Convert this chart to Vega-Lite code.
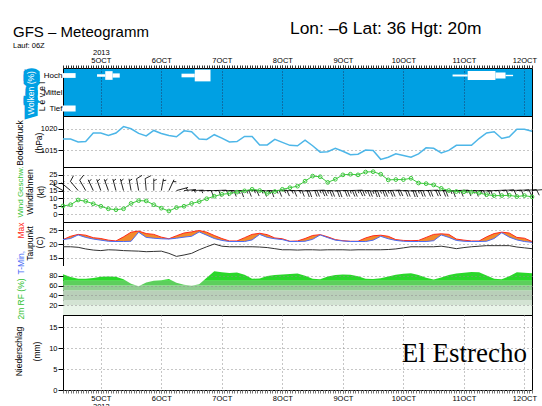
{
  "$schema": "https://vega.github.io/schema/vega-lite/v6.json",
  "autosize": {"type": "none"},
  "padding": {"left": 63, "top": 68, "right": 479, "bottom": 338},
  "background": "white",
  "title": {"text": "Lon: –6 Lat: 36 Hgt: 20m", "anchor": "start", "frame": "group", "dx": 227, "dy": 17, "font": "Liberation Sans", "fontSize": 17.4, "fontWeight": "normal", "color": "black"},
  "spacing": 0,
  "bounds": "flush",
  "datasets": {
    "wx": [
      {"t":"2013-10-04T09:00:00Z","p":1017.6,"ws":5.2,"dir":300,"barb":"5","tmax":21.6,"tmin":21.6,"td":19.0,"rh":83.3},
      {"t":"2013-10-04T12:00:00Z","p":1017.6,"ws":6.0,"dir":310,"barb":"5","tmax":22.8,"tmin":22.0,"td":19.0,"rh":77.5},
      {"t":"2013-10-04T15:00:00Z","p":1016.9,"ws":9.0,"dir":320,"barb":"10","tmax":23.5,"tmin":23.3,"td":18.8,"rh":74},
      {"t":"2013-10-04T18:00:00Z","p":1017.0,"ws":8.2,"dir":330,"barb":"10","tmax":23.2,"tmin":22.4,"td":18.2,"rh":74},
      {"t":"2013-10-04T21:00:00Z","p":1019.0,"ws":6.6,"dir":335,"barb":"5","tmax":22.3,"tmin":21.8,"td":17.8,"rh":75.5},
      {"t":"2013-10-05T00:00:00Z","p":1019.0,"ws":5.0,"dir":340,"barb":"5","tmax":22.0,"tmin":21.4,"td":17.6,"rh":78},
      {"t":"2013-10-05T03:00:00Z","p":1018.4,"ws":3.4,"dir":340,"barb":"5","tmax":21.4,"tmin":21.0,"td":17.9,"rh":78.6},
      {"t":"2013-10-05T06:00:00Z","p":1019.0,"ws":2.8,"dir":345,"barb":"5","tmax":21.1,"tmin":20.9,"td":17.8,"rh":78},
      {"t":"2013-10-05T09:00:00Z","p":1020.5,"ws":3.4,"dir":345,"barb":"5","tmax":22.6,"tmin":20.9,"td":17.6,"rh":73},
      {"t":"2013-10-05T12:00:00Z","p":1020.0,"ws":6.8,"dir":350,"barb":"5","tmax":24.3,"tmin":21.0,"td":17.5,"rh":64},
      {"t":"2013-10-05T15:00:00Z","p":1018.9,"ws":8.6,"dir":350,"barb":"10","tmax":24.7,"tmin":24.3,"td":17.4,"rh":58.5},
      {"t":"2013-10-05T18:00:00Z","p":1018.3,"ws":8.4,"dir":355,"barb":"10","tmax":23.8,"tmin":22.4,"td":17.2,"rh":66.5},
      {"t":"2013-10-05T21:00:00Z","p":1019.6,"ws":6.0,"dir":0,"barb":"5","tmax":23.5,"tmin":22.1,"td":17.3,"rh":70},
      {"t":"2013-10-06T00:00:00Z","p":1018.9,"ws":3.8,"dir":10,"barb":"5","tmax":22.5,"tmin":21.9,"td":17.4,"rh":71},
      {"t":"2013-10-06T03:00:00Z","p":1018.4,"ws":2.0,"dir":25,"barb":"5","tmax":21.9,"tmin":21.8,"td":16.6,"rh":73.5},
      {"t":"2013-10-06T06:00:00Z","p":1018.1,"ws":4.2,"dir":75,"barb":"5","tmax":23.0,"tmin":22.1,"td":15.5,"rh":66},
      {"t":"2013-10-06T09:00:00Z","p":1019.5,"ws":5.0,"dir":85,"barb":"5","tmax":24.0,"tmin":22.5,"td":16.0,"rh":61.5},
      {"t":"2013-10-06T12:00:00Z","p":1019.3,"ws":6.8,"dir":88,"barb":"5","tmax":24.4,"tmin":22.8,"td":16.6,"rh":59.5},
      {"t":"2013-10-06T15:00:00Z","p":1017.6,"ws":8.0,"dir":90,"barb":"10","tmax":24.9,"tmin":24.4,"td":17.9,"rh":63},
      {"t":"2013-10-06T18:00:00Z","p":1017.5,"ws":9.8,"dir":90,"barb":"10","tmax":24.3,"tmin":23.2,"td":19.0,"rh":76},
      {"t":"2013-10-06T21:00:00Z","p":1018.6,"ws":11.4,"dir":88,"barb":"10","tmax":23.1,"tmin":22.0,"td":20.0,"rh":89.5},
      {"t":"2013-10-07T00:00:00Z","p":1017.8,"ws":12.6,"dir":90,"barb":"15","tmax":22.0,"tmin":21.3,"td":19.2,"rh":87.5},
      {"t":"2013-10-07T03:00:00Z","p":1016.9,"ws":13.2,"dir":92,"barb":"15","tmax":21.1,"tmin":20.9,"td":19.0,"rh":85.5},
      {"t":"2013-10-07T06:00:00Z","p":1017.0,"ws":14.0,"dir":90,"barb":"15","tmax":21.1,"tmin":20.9,"td":19.0,"rh":86.5},
      {"t":"2013-10-07T09:00:00Z","p":1018.2,"ws":14.8,"dir":88,"barb":"15","tmax":22.3,"tmin":20.9,"td":19.0,"rh":82},
      {"t":"2013-10-07T12:00:00Z","p":1018.2,"ws":15.8,"dir":90,"barb":"15","tmax":23.5,"tmin":21.5,"td":19.0,"rh":74},
      {"t":"2013-10-07T15:00:00Z","p":1016.2,"ws":15.0,"dir":92,"barb":"15","tmax":23.9,"tmin":23.5,"td":18.9,"rh":74.5},
      {"t":"2013-10-07T18:00:00Z","p":1016.2,"ws":13.2,"dir":90,"barb":"15","tmax":23.4,"tmin":22.4,"td":18.7,"rh":79.5},
      {"t":"2013-10-07T21:00:00Z","p":1017.5,"ws":14.4,"dir":88,"barb":"15","tmax":22.2,"tmin":21.9,"td":18.3,"rh":81.5},
      {"t":"2013-10-08T00:00:00Z","p":1016.8,"ws":15.8,"dir":90,"barb":"15","tmax":21.9,"tmin":21.6,"td":17.9,"rh":82.5},
      {"t":"2013-10-08T03:00:00Z","p":1016.1,"ws":16.8,"dir":90,"barb":"15","tmax":21.0,"tmin":20.9,"td":17.9,"rh":83.5},
      {"t":"2013-10-08T06:00:00Z","p":1016.0,"ws":17.8,"dir":92,"barb":"20","tmax":21.1,"tmin":20.9,"td":17.8,"rh":84.5},
      {"t":"2013-10-08T09:00:00Z","p":1017.3,"ws":21.0,"dir":90,"barb":"20","tmax":22.0,"tmin":21.0,"td":17.9,"rh":80},
      {"t":"2013-10-08T12:00:00Z","p":1016.0,"ws":24.2,"dir":88,"barb":"25","tmax":23.1,"tmin":21.7,"td":17.9,"rh":74},
      {"t":"2013-10-08T15:00:00Z","p":1014.5,"ws":23.8,"dir":90,"barb":"25","tmax":23.4,"tmin":23.3,"td":17.8,"rh":73},
      {"t":"2013-10-08T18:00:00Z","p":1014.6,"ws":20.2,"dir":92,"barb":"20","tmax":22.6,"tmin":22.3,"td":17.9,"rh":78.5},
      {"t":"2013-10-08T21:00:00Z","p":1015.4,"ws":22.2,"dir":90,"barb":"20","tmax":21.6,"tmin":21.4,"td":17.9,"rh":81.5},
      {"t":"2013-10-09T00:00:00Z","p":1014.7,"ws":25.0,"dir":90,"barb":"25","tmax":21.2,"tmin":21.1,"td":17.9,"rh":82.5},
      {"t":"2013-10-09T03:00:00Z","p":1013.9,"ws":25.4,"dir":88,"barb":"25","tmax":21.0,"tmin":20.9,"td":17.8,"rh":82.2},
      {"t":"2013-10-09T06:00:00Z","p":1014.0,"ws":25.0,"dir":90,"barb":"25","tmax":21.0,"tmin":20.9,"td":17.9,"rh":79},
      {"t":"2013-10-09T09:00:00Z","p":1015.0,"ws":26.8,"dir":92,"barb":"25","tmax":22.2,"tmin":20.9,"td":17.9,"rh":74},
      {"t":"2013-10-09T12:00:00Z","p":1014.9,"ws":27.0,"dir":90,"barb":"25","tmax":23.0,"tmin":21.4,"td":17.9,"rh":73.5},
      {"t":"2013-10-09T15:00:00Z","p":1012.8,"ws":25.4,"dir":90,"barb":"25","tmax":23.2,"tmin":22.8,"td":17.9,"rh":75},
      {"t":"2013-10-09T18:00:00Z","p":1013.3,"ws":21.8,"dir":88,"barb":"20","tmax":22.8,"tmin":21.9,"td":18.0,"rh":78.5},
      {"t":"2013-10-09T21:00:00Z","p":1014.1,"ws":22.0,"dir":90,"barb":"20","tmax":21.6,"tmin":21.3,"td":18.2,"rh":82},
      {"t":"2013-10-10T00:00:00Z","p":1013.7,"ws":22.0,"dir":92,"barb":"20","tmax":21.3,"tmin":21.0,"td":18.6,"rh":84},
      {"t":"2013-10-10T03:00:00Z","p":1013.3,"ws":22.8,"dir":90,"barb":"25","tmax":21.2,"tmin":20.9,"td":19.0,"rh":85},
      {"t":"2013-10-10T06:00:00Z","p":1014.1,"ws":19.8,"dir":90,"barb":"20","tmax":21.3,"tmin":20.9,"td":19.0,"rh":81.8},
      {"t":"2013-10-10T09:00:00Z","p":1015.5,"ws":19.4,"dir":88,"barb":"20","tmax":22.4,"tmin":20.9,"td":19.0,"rh":76},
      {"t":"2013-10-10T12:00:00Z","p":1015.4,"ws":18.6,"dir":90,"barb":"20","tmax":23.5,"tmin":21.2,"td":19.0,"rh":72.5},
      {"t":"2013-10-10T15:00:00Z","p":1014.3,"ws":16.4,"dir":92,"barb":"15","tmax":23.7,"tmin":23.3,"td":19.2,"rh":76.5},
      {"t":"2013-10-10T18:00:00Z","p":1014.9,"ws":15.0,"dir":90,"barb":"15","tmax":23.5,"tmin":22.4,"td":18.8,"rh":81.5},
      {"t":"2013-10-10T21:00:00Z","p":1016.1,"ws":14.4,"dir":88,"barb":"15","tmax":21.8,"tmin":21.3,"td":18.3,"rh":84.5},
      {"t":"2013-10-11T00:00:00Z","p":1016.1,"ws":14.2,"dir":90,"barb":"15","tmax":21.4,"tmin":21.0,"td":18.7,"rh":86},
      {"t":"2013-10-11T03:00:00Z","p":1016.1,"ws":14.0,"dir":90,"barb":"15","tmax":21.1,"tmin":20.9,"td":19.0,"rh":88},
      {"t":"2013-10-11T06:00:00Z","p":1017.7,"ws":13.4,"dir":92,"barb":"15","tmax":21.1,"tmin":20.9,"td":19.2,"rh":87.5},
      {"t":"2013-10-11T09:00:00Z","p":1019.0,"ws":12.4,"dir":90,"barb":"10","tmax":22.6,"tmin":21.0,"td":19.4,"rh":80.5},
      {"t":"2013-10-11T12:00:00Z","p":1019.3,"ws":11.8,"dir":88,"barb":"10","tmax":23.8,"tmin":22.0,"td":19.4,"rh":74},
      {"t":"2013-10-11T15:00:00Z","p":1017.7,"ws":11.8,"dir":86,"barb":"10","tmax":24.3,"tmin":24.1,"td":19.4,"rh":73},
      {"t":"2013-10-11T18:00:00Z","p":1018.1,"ws":12.0,"dir":88,"barb":"10","tmax":24.0,"tmin":22.5,"td":19.4,"rh":79},
      {"t":"2013-10-11T21:00:00Z","p":1019.9,"ws":11.2,"dir":86,"barb":"10","tmax":22.4,"tmin":21.5,"td":18.9,"rh":87},
      {"t":"2013-10-12T00:00:00Z","p":1019.9,"ws":11.8,"dir":85,"barb":"10","tmax":22.1,"tmin":20.9,"td":18.6,"rh":86},
      {"t":"2013-10-12T03:00:00Z","p":1019.4,"ws":11.0,"dir":85,"barb":"10","tmax":20.9,"tmin":20.6,"td":18.3,"rh":85.2}
    ],
    "clouds": [
      {"t0":"2013-10-04T09:00:00Z","t1":"2013-10-04T14:00:00Z","level":"Hoch","cover":34},
      {"t0":"2013-10-04T22:30:00Z","t1":"2013-10-05T01:45:00Z","level":"Hoch","cover":18},
      {"t0":"2013-10-05T01:45:00Z","t1":"2013-10-05T04:40:00Z","level":"Hoch","cover":62},
      {"t0":"2013-10-05T04:40:00Z","t1":"2013-10-05T07:30:00Z","level":"Hoch","cover":30},
      {"t0":"2013-10-06T08:00:00Z","t1":"2013-10-06T13:15:00Z","level":"Hoch","cover":26},
      {"t0":"2013-10-06T13:15:00Z","t1":"2013-10-06T19:30:00Z","level":"Hoch","cover":84},
      {"t0":"2013-10-10T19:30:00Z","t1":"2013-10-11T01:30:00Z","level":"Hoch","cover":14},
      {"t0":"2013-10-11T01:30:00Z","t1":"2013-10-11T12:30:00Z","level":"Hoch","cover":64},
      {"t0":"2013-10-11T12:30:00Z","t1":"2013-10-11T16:30:00Z","level":"Hoch","cover":43},
      {"t0":"2013-10-11T16:30:00Z","t1":"2013-10-11T19:30:00Z","level":"Hoch","cover":10},
      {"t0":"2013-10-04T09:00:00Z","t1":"2013-10-04T14:00:00Z","level":"Tief","cover":43}
    ],
    "rhbands": [
      {"lo":0,"hi":20,"band":"0-20"},
      {"lo":20,"hi":30,"band":"20-30"},
      {"lo":30,"hi":50,"band":"30-50"},
      {"lo":50,"hi":60,"band":"50-60"},
      {"lo":60,"hi":70,"band":"60-70"},
      {"lo":70,"hi":100,"band":"70-100"}
    ]
  },
  "vconcat": [
    {
      "width": 469, "height": 48,
      "view": {"fill": "#00a0e3", "stroke": "black"},
      "title": {"text": "GFS – Meteogramm", "subtitle": "Lauf: 06Z", "anchor": "start", "frame": "group", "dx": -50, "dy": 1, "offset": 0, "font": "Liberation Sans", "fontSize": 15, "fontWeight": "normal", "color": "black", "subtitleFont": "Liberation Sans", "subtitleFontSize": 7.5, "subtitleColor": "black", "subtitlePadding": 2},
      "data": {"name": "clouds"},
      "layer": [
        {
          "mark": {"type": "rule", "color": "white"},
          "encoding": {
            "x": {"field": "t0", "type": "temporal",
              "scale": {"type": "utc", "domain": [{"year": 2013, "month": 10, "date": 4, "hours": 9, "utc": true}, {"year": 2013, "month": 10, "date": 12, "hours": 3, "utc": true}]},
              "axis": {"orient": "top",
                "values": [{"year": 2013, "month": 10, "date": 5, "utc": true}, {"year": 2013, "month": 10, "date": 6, "utc": true}, {"year": 2013, "month": 10, "date": 7, "utc": true}, {"year": 2013, "month": 10, "date": 8, "utc": true}, {"year": 2013, "month": 10, "date": 9, "utc": true}, {"year": 2013, "month": 10, "date": 10, "utc": true}, {"year": 2013, "month": 10, "date": 11, "utc": true}, {"year": 2013, "month": 10, "date": 12, "utc": true}],
                "labelExpr": "utcdate(datum.value) + 'OCT'",
                "labelOverlap": false, "labelBound": false, "labelFlush": false,
                "tickSize": 3, "tickColor": "#222", "labelPadding": 1, "title": null,
                "grid": true, "gridColor": "#1d3d66", "gridDash": [1, 2]}},
            "x2": {"field": "t1"},
            "y": {"field": "level", "type": "nominal",
              "scale": {"type": "point", "domain": ["Hoch", "Mittel", "Tief"], "padding": 0.4545},
              "axis": {"orient": "left", "ticks": false, "labelPadding": 1, "labelFontSize": 8, "grid": false, "title": "L e v e l", "titleX": -21.5, "titleY": 28}},
            "strokeWidth": {"field": "cover", "type": "quantitative", "scale": {"domain": [0, 100], "range": [0, 14]}, "legend": null}
          }
        },
        {
          "mark": {"type": "rule", "opacity": 0},
          "encoding": {
            "x": {"field": "t0", "type": "temporal",
              "axis": {"orient": "top", "values": [{"year": 2013, "month": 10, "date": 5, "utc": true}], "labelExpr": "'2013'",
                "ticks": false, "tickSize": 0, "labelPadding": 12, "grid": false, "title": null, "labelOverlap": false, "labelBound": false, "labelFlush": false}},
            "x2": {"field": "t1"},
            "y": {"field": "level", "type": "nominal",
              "axis": {"orient": "left", "labels": false, "ticks": false, "grid": false, "title": "Wolken (%)", "titleColor": "#00a0e3", "titleX": -33, "titleY": 24.5,
                "encoding": {"title": {"stroke": {"value": "#00a0e3"}, "strokeWidth": {"value": 7}}}}}
          }
        },
        {
          "mark": {"type": "rule", "opacity": 0},
          "encoding": {
            "x": {"field": "t0", "type": "temporal",
              "axis": {"orient": "top", "tickCount": 186, "labels": false, "tickSize": 3, "tickColor": "#333", "grid": false, "title": null}},
            "x2": {"field": "t1"},
            "y": {"field": "level", "type": "nominal",
              "axis": {"orient": "left", "labels": false, "ticks": false, "grid": false, "title": "Wolken (%)", "titleColor": "white", "titleX": -33, "titleY": 24.5}}
          }
        }
      ],
      "resolve": {"axis": {"x": "independent", "y": "independent"}}
    },
    {
      "width": 469, "height": 51,
      "view": {"stroke": "black"},
      "data": {"name": "wx"},
      "layer": [
        {
          "mark": {"type": "line", "color": "#4db6e8", "strokeWidth": 1.5},
          "encoding": {
            "x": {"field": "t", "type": "temporal", "scale": {"type": "utc", "domain": [{"year": 2013, "month": 10, "date": 4, "hours": 9, "utc": true}, {"year": 2013, "month": 10, "date": 12, "hours": 3, "utc": true}]}, "axis": null},
            "y": {"field": "p", "type": "quantitative", "scale": {"domain": [1011, 1022.6]},
              "axis": {"orient": "left", "values": [1015, 1020], "format": "d", "grid": true, "title": "Bodendruck", "titleX": -43.5, "titleY": 26.5}}
          }
        },
        {
          "mark": {"type": "line", "opacity": 0},
          "encoding": {
            "x": {"field": "t", "type": "temporal"},
            "y": {"field": "p", "type": "quantitative",
              "axis": {"orient": "left", "labels": false, "ticks": false, "grid": false, "title": "(hPa)", "titleX": -24.5, "titleY": 26.5}}
          }
        }
      ],
      "resolve": {"axis": {"y": "independent"}}
    },
    {
      "width": 469, "height": 55,
      "view": {"stroke": "black"},
      "data": {"name": "wx"},
      "layer": [
        {
          "mark": {"type": "point", "filled": false, "color": "black", "opacity": 1, "strokeWidth": 0.8, "size": 144},
          "encoding": {
            "x": {"field": "t", "type": "temporal", "scale": {"type": "utc", "domain": [{"year": 2013, "month": 10, "date": 4, "hours": 9, "utc": true}, {"year": 2013, "month": 10, "date": 12, "hours": 3, "utc": true}]}, "axis": null},
            "y": {"datum": 15, "type": "quantitative", "axis": null},
            "shape": {"field": "barb", "type": "nominal", "legend": null,
              "scale": {"domain": ["5", "10", "15", "20", "25"],
                "range": ["M0,0L0,-2M0,-1.65L0.5,-1.85", "M0,0L0,-2L1,-2.4", "M0,0L0,-2L1,-2.4M0,-1.6L0.5,-1.8", "M0,0L0,-2L1,-2.4M0,-1.6L1,-2", "M0,0L0,-2L1,-2.4M0,-1.6L1,-2M0,-1.2L0.5,-1.4"]}},
            "angle": {"field": "dir", "type": "quantitative", "scale": {"domain": [0, 360], "range": [0, 360]}, "legend": null}
          }
        },
        {
          "mark": {"type": "line", "color": "#3cc83c", "strokeWidth": 1},
          "encoding": {
            "x": {"field": "t", "type": "temporal"},
            "y": {"field": "ws", "type": "quantitative", "scale": {"domain": [-3.8, 29.2]},
              "axis": {"orient": "left", "values": [0, 5, 10, 15, 20, 25], "grid": true, "title": "Windfahnen", "titleX": -33.5, "titleY": 24.5}}
          }
        },
        {
          "mark": {"type": "point", "filled": false, "color": "#3cc83c", "opacity": 1, "size": 14, "strokeWidth": 1},
          "encoding": {
            "x": {"field": "t", "type": "temporal"},
            "y": {"field": "ws", "type": "quantitative",
              "axis": {"orient": "left", "labels": false, "ticks": false, "grid": false, "title": "Wind Geschw.", "titleColor": "#2fbf2f", "titleFontSize": 8, "titleX": -43, "titleY": 24.5}}
          }
        },
        {
          "mark": {"type": "line", "opacity": 0},
          "encoding": {
            "x": {"field": "t", "type": "temporal"},
            "y": {"field": "ws", "type": "quantitative",
              "axis": {"orient": "left", "labels": false, "ticks": false, "grid": false, "title": "(kt)", "titleX": -23, "titleY": 24.5}}
          }
        }
      ],
      "resolve": {"axis": {"y": "independent"}}
    },
    {
      "width": 469, "height": 44,
      "view": {"stroke": "black"},
      "data": {"name": "wx"},
      "layer": [
        {
          "mark": {"type": "area", "color": "#f28a2c"},
          "encoding": {
            "x": {"field": "t", "type": "temporal", "scale": {"type": "utc", "domain": [{"year": 2013, "month": 10, "date": 4, "hours": 9, "utc": true}, {"year": 2013, "month": 10, "date": 12, "hours": 3, "utc": true}]}, "axis": null},
            "y": {"field": "tmax", "type": "quantitative", "scale": {"domain": [12.4, 26.2]},
              "axis": {"orient": "left", "values": [15, 20, 25], "grid": true, "title": "Taupunkt", "titleX": -33.5, "titleY": 21}},
            "y2": {"field": "tmin"}
          }
        },
        {
          "mark": {"type": "line", "color": "#ff2a1a", "strokeWidth": 1},
          "encoding": {
            "x": {"field": "t", "type": "temporal"},
            "y": {"field": "tmax", "type": "quantitative",
              "axis": {"orient": "left", "labels": false, "ticks": false, "grid": false, "title": "Max", "titleColor": "#ff2a1a", "titleAlign": "left", "titleX": -43, "titleY": 16}}
          }
        },
        {
          "mark": {"type": "line", "color": "#4b6cf5", "strokeWidth": 1},
          "encoding": {
            "x": {"field": "t", "type": "temporal"},
            "y": {"field": "tmin", "type": "quantitative",
              "axis": {"orient": "left", "labels": false, "ticks": false, "grid": false, "title": "T-Min,", "titleColor": "#4b6cf5", "titleAlign": "left", "titleX": -43, "titleY": 52}}
          }
        },
        {
          "mark": {"type": "line", "color": "#333333", "strokeWidth": 1},
          "encoding": {
            "x": {"field": "t", "type": "temporal"},
            "y": {"field": "td", "type": "quantitative",
              "axis": {"orient": "left", "labels": false, "ticks": false, "grid": false, "title": "(C)", "titleX": -23.5, "titleY": 20}}
          }
        }
      ],
      "resolve": {"axis": {"y": "independent"}}
    },
    {
      "width": 469, "height": 49,
      "view": {"stroke": "black"},
      "layer": [
        {
          "data": {"name": "rhbands"},
          "mark": {"type": "rect", "clip": true},
          "encoding": {
            "y": {"field": "lo", "type": "quantitative", "scale": {"domain": [1.8, 97.6]},
              "axis": {"orient": "left", "values": [20, 40, 60, 80], "grid": true, "zindex": 1, "title": "2m RF (%)", "titleColor": "#2fbf2f", "titleX": -43, "titleY": 32.5}},
            "y2": {"field": "hi"},
            "color": {"field": "band", "type": "nominal", "legend": null,
              "scale": {"domain": ["0-20", "20-30", "30-50", "50-60", "60-70", "70-100"],
                "range": ["#e9f4e9", "#d3e3d3", "#b9cfb9", "#93cd93", "#5ccf5c", "#2ad82a"]}}
          }
        },
        {
          "data": {"name": "wx"},
          "mark": {"type": "area", "color": "white", "clip": true},
          "encoding": {
            "x": {"field": "t", "type": "temporal", "scale": {"type": "utc", "domain": [{"year": 2013, "month": 10, "date": 4, "hours": 9, "utc": true}, {"year": 2013, "month": 10, "date": 12, "hours": 3, "utc": true}]}, "axis": null},
            "y": {"field": "rh", "type": "quantitative", "axis": null},
            "y2": {"datum": 100}
          }
        }
      ],
      "resolve": {"axis": {"y": "independent"}}
    },
    {
      "width": 469, "height": 75,
      "view": {"stroke": "black"},
      "data": {"values": [{"label": "El Estrecho"}]},
      "layer": [
        {
          "mark": {"type": "text", "font": "Liberation Serif", "fontSize": 27, "align": "right", "baseline": "alphabetic", "color": "black"},
          "encoding": {
            "text": {"field": "label"},
            "x": {"datum": {"year": 2013, "month": 10, "date": 12, "hours": 1, "utc": true}, "type": "temporal",
              "scale": {"type": "utc", "domain": [{"year": 2013, "month": 10, "date": 4, "hours": 9, "utc": true}, {"year": 2013, "month": 10, "date": 12, "hours": 3, "utc": true}]},
              "axis": {"orient": "bottom",
                "values": [{"year": 2013, "month": 10, "date": 5, "utc": true}, {"year": 2013, "month": 10, "date": 6, "utc": true}, {"year": 2013, "month": 10, "date": 7, "utc": true}, {"year": 2013, "month": 10, "date": 8, "utc": true}, {"year": 2013, "month": 10, "date": 9, "utc": true}, {"year": 2013, "month": 10, "date": 10, "utc": true}, {"year": 2013, "month": 10, "date": 11, "utc": true}, {"year": 2013, "month": 10, "date": 12, "utc": true}],
                "labelExpr": "utcdate(datum.value) == 5 ? ['5OCT', '2013'] : utcdate(datum.value) + 'OCT'",
                "labelOverlap": false, "labelBound": false, "labelFlush": false, "labelLineHeight": 8,
                "tickSize": 3, "tickColor": "#666", "labelPadding": 1, "title": null,
                "grid": true, "gridColor": "#8c8c8c", "gridDash": [1, 3]}},
            "y": {"datum": 6.8, "type": "quantitative", "scale": {"domain": [0, 17.05]},
              "axis": {"orient": "left", "values": [0, 5, 10, 15], "grid": true, "title": "Niederschlag", "titleX": -44.7, "titleY": 36}}
          }
        },
        {
          "mark": {"type": "text", "opacity": 0},
          "encoding": {
            "text": {"field": "label"},
            "x": {"datum": {"year": 2013, "month": 10, "date": 12, "hours": 1, "utc": true}, "type": "temporal",
              "axis": {"orient": "bottom", "tickCount": 186, "labels": false, "tickSize": 3, "tickColor": "#777", "grid": false, "title": null}},
            "y": {"datum": 6.8, "type": "quantitative",
              "axis": {"orient": "left", "labels": false, "ticks": false, "grid": false, "title": "(mm)", "titleX": -26.7, "titleY": 36}}
          }
        }
      ],
      "resolve": {"axis": {"x": "independent", "y": "independent"}}
    }
  ],
  "config": {
    "view": {"stroke": "black", "strokeWidth": 1},
    "axis": {
      "labelFont": "Liberation Sans Narrow, Liberation Sans, sans-serif", "labelFontSize": 7.5, "labelColor": "black",
      "titleFont": "Liberation Sans Narrow, Liberation Sans, sans-serif", "titleFontSize": 8.5, "titleFontWeight": "normal", "titleColor": "black",
      "domain": false, "tickColor": "black", "tickSize": 5, "labelPadding": 1,
      "gridColor": "#8c8c8c", "gridDash": [1, 3], "gridWidth": 1
    },
    "axisY": {"titleAngle": -90, "titleBaseline": "middle", "titleAlign": "center", "titlePadding": 0}
  }
}
